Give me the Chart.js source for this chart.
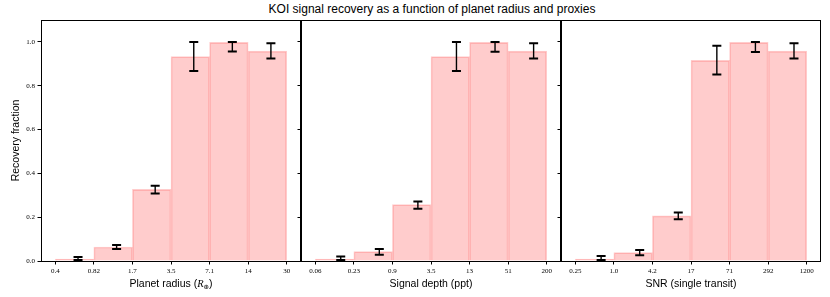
<!DOCTYPE html>
<html>
<head>
<meta charset="utf-8">
<script src="https://cdn.jsdelivr.net/npm/chart.js@4.4.0/dist/chart.umd.min.js"></script>
<style>
body { margin: 0; width: 830px; height: 297px; background: #fff; overflow: hidden; position: relative; }
canvas { position: absolute; top: 0; }
#title { position: absolute; top: 2px; left: 17px; width: 830px; text-align: center;
         font: 12px "Liberation Sans", Arial, sans-serif; line-height: 14px; color: #000; }
</style>
</head>
<body>
<div id="title">KOI signal recovery as a function of planet radius and proxies</div>
<canvas id="c1" width="303" height="297" style="left:0px"></canvas>
<canvas id="c2" width="267" height="297" style="left:296px"></canvas>
<canvas id="c3" width="267" height="297" style="left:556px"></canvas>
<script>
// bin edge labels
var radiusTicks = ['0.4', '0.82', '1.7', '3.5', '7.1', '14', '30'];
var depthTicks = ['0.06', '0.23', '0.9', '3.5', '13', '51', '200'];
var snrTicks = ['0.25', '1.0', '4.2', '17', '71', '292', '1200'];

// recovery fraction per bin
var radiusFrac = [0.009, 0.064, 0.327, 0.933, 0.998, 0.958];
var depthFrac = [0.009, 0.043, 0.257, 0.933, 0.998, 0.958];
var snrFrac = [0.009, 0.038, 0.206, 0.916, 0.998, 0.958];

// error bar limits
var radiusLo = [0.005, 0.055, 0.308, 0.867, 0.956, 0.924];
var radiusHi = [0.018, 0.073, 0.343, 1.0, 1.0, 0.994];
var depthLo = [0.005, 0.029, 0.238, 0.867, 0.955, 0.924];
var depthHi = [0.021, 0.055, 0.272, 1.0, 1.0, 0.994];
var snrLo = [0.005, 0.026, 0.191, 0.851, 0.954, 0.924];
var snrHi = [0.023, 0.050, 0.221, 0.982, 1.0, 0.994];

// where the error bars sit (in bin-index units)
var radiusErrPos = [0.59, 1.59, 2.59, 3.59, 4.59, 5.59];
var depthErrPos = [0.66, 1.66, 2.66, 3.66, 4.66, 5.66];
var snrErrPos = [0.67, 1.67, 2.67, 3.67, 4.67, 5.67];

var yTicks = [0, 0.2, 0.4, 0.6, 0.8, 1.0];
var yTickLabels = ['0.0', '0.2', '0.4', '0.6', '0.8', '1.0'];

var sansFont = '"Liberation Sans", Arial, sans-serif';
var serifFont = '"Liberation Serif", "Times New Roman", serif';

// frame round the plot area
var framePlugin = {
    id: 'frame',
    afterDraw: function (chart) {
        var a = chart.chartArea, ctx = chart.ctx;
        ctx.save();
        ctx.strokeStyle = '#000';
        ctx.lineWidth = 1;
        ctx.strokeRect(Math.round(a.left) + 0.5, Math.round(a.top) + 0.5,
            Math.round(a.right - a.left) - 1, Math.round(a.bottom - a.top));
        ctx.restore();
    }
};

// error bars with caps
var errorBarPlugin = {
    id: 'errbars',
    afterDatasetsDraw: function (chart, args, opts) {
        var xs = chart.scales.x, ys = chart.scales.y, ctx = chart.ctx;
        ctx.save();
        ctx.strokeStyle = '#000';
        opts.pos.forEach(function (p, i) {
            var x = xs.getPixelForValue(p);
            var y1 = ys.getPixelForValue(opts.lo[i]);
            var y2 = ys.getPixelForValue(opts.hi[i]);
            ctx.lineWidth = 1.4;
            ctx.beginPath();
            ctx.moveTo(x, y1);
            ctx.lineTo(x, y2);
            ctx.stroke();
            ctx.lineWidth = 2;
            ctx.beginPath();
            ctx.moveTo(x - 4.5, y1); ctx.lineTo(x + 4.5, y1);
            ctx.moveTo(x - 4.5, y2); ctx.lineTo(x + 4.5, y2);
            ctx.stroke();
        });
        ctx.restore();
    }
};

// x label drawn by hand so R can be italic with a subscript
var xLabelPlugin = {
    id: 'xlabel',
    afterDraw: function (chart, args, opts) {
        var ctx = chart.ctx, a = chart.chartArea;
        var parts = opts.parts;
        ctx.save();
        ctx.fillStyle = '#000';
        ctx.textBaseline = 'alphabetic';
        var total = 0;
        parts.forEach(function (p) { ctx.font = p.font; p.w = ctx.measureText(p.text).width; total += p.w; });
        var x = (a.left + a.right) / 2 - total / 2;
        parts.forEach(function (p) {
            ctx.font = p.font;
            ctx.fillText(p.text, x, 287 + (p.dy || 0));
            x += p.w;
        });
        ctx.restore();
    }
};

function makePanel(id, ticks, frac, lo, hi, pos, label, showY, yWidth) {
    var ctx = document.getElementById(id).getContext('2d');
    var parts;
    if (label === 'radius') {
        parts = [
            { text: 'Planet radius (', font: '10.5px ' + sansFont },
            { text: 'R', font: 'italic 10.5px ' + serifFont },
            { text: '\u2295', font: '6.5px "DejaVu Sans"', dy: 2 },
            { text: ')', font: '10.5px ' + sansFont }
        ];
    } else {
        parts = [{ text: label, font: '10.5px ' + sansFont }];
    }
    return new Chart(ctx, {
        type: 'bar',
        data: {
            datasets: [{
                data: frac.map(function (v, i) { return { x: i + 0.5, y: v }; }),
                backgroundColor: 'rgba(255, 0, 0, 0.2)',
                borderColor: 'rgba(255, 0, 0, 0.2)',
                borderWidth: 1,
                barPercentage: 1,
                categoryPercentage: 1
            }]
        },
        options: {
            responsive: false,
            animation: false,
            events: [],
            layout: { padding: { left: 0, right: 2, top: 20, bottom: 0 } },
            plugins: {
                legend: { display: false },
                tooltip: { enabled: false },
                errbars: { lo: lo, hi: hi, pos: pos },
                xlabel: { parts: parts }
            },
            scales: {
                x: {
                    type: 'linear',
                    min: -0.37,
                    max: 6.37,
                    offset: false,
                    afterBuildTicks: function (s) { s.ticks = ticks.map(function (t, i) { return { value: i }; }); },
                    afterFit: function (s) { s.height = 36; },
                    grid: { drawOnChartArea: false, drawTicks: true, tickLength: 3.5, color: '#000', offset: false },
                    border: { display: false },
                    ticks: {
                        autoSkip: false,
                        maxRotation: 0,
                        padding: 2,
                        color: '#000',
                        font: { family: serifFont, size: 7 },
                        callback: function (v, i) { return ticks[i]; }
                    }
                },
                y: {
                    min: 0,
                    max: 1.1,
                    afterBuildTicks: function (s) { s.ticks = yTicks.map(function (v) { return { value: v }; }); },
                    afterFit: function (s) { s.width = yWidth; },
                    grid: { drawOnChartArea: false, drawTicks: true, tickLength: 3.5, color: '#000' },
                    border: { display: false },
                    title: {
                        display: showY,
                        text: 'Recovery fraction',
                        color: '#000',
                        font: { family: sansFont, size: 10.5 },
                        padding: { top: 10, bottom: 0 }
                    },
                    ticks: {
                        padding: 2.5,
                        color: '#000',
                        font: { family: serifFont, size: 7 },
                        callback: function (v, i) { return showY ? yTickLabels[i] : ''; }
                    }
                }
            }
        },
        plugins: [framePlugin, errorBarPlugin, xLabelPlugin]
    });
}

makePanel('c1', radiusTicks, radiusFrac, radiusLo, radiusHi, radiusErrPos, 'radius', true, 41);
makePanel('c2', depthTicks, depthFrac, depthLo, depthHi, depthErrPos, 'Signal depth (ppt)', false, 5);
makePanel('c3', snrTicks, snrFrac, snrLo, snrHi, snrErrPos, 'SNR (single transit)', false, 5);
</script>
</body>
</html>
